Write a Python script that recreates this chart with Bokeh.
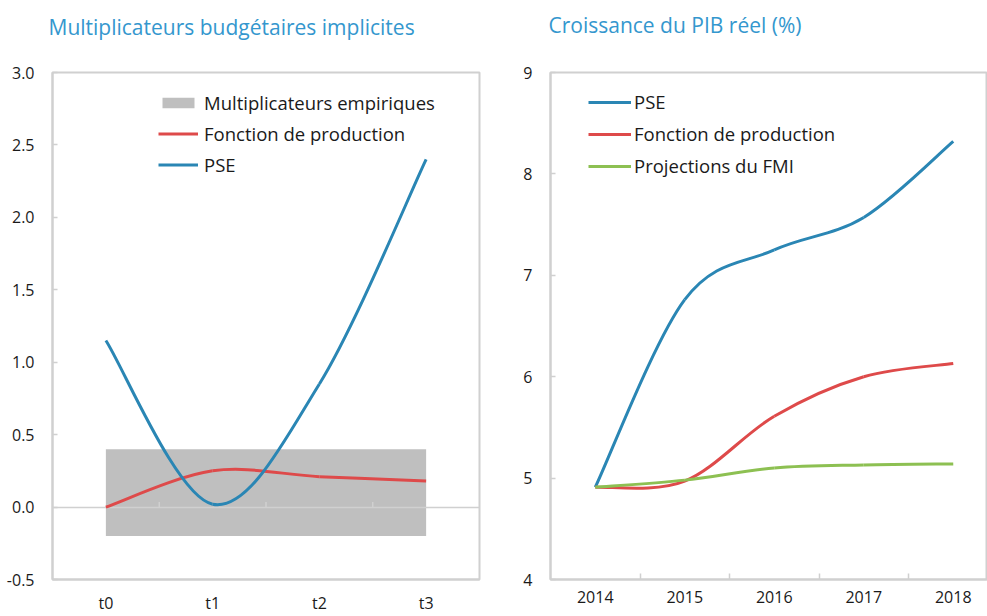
from bokeh.plotting import figure
from bokeh.models import (Range1d, FixedTicker, PrintfTickFormatter, Legend, LegendItem,
                          ColumnDataSource, Title)
from bokeh.layouts import row
from bokeh.embed import file_html
from bokeh.resources import INLINE

FONT = "Open Sans"
BLUE = "#2A86B4"
RED = "#DE4A4A"
GREEN = "#8DC052"
GREY_FILL = "#BFBFBF"
FRAME = "#D0D0D0"
TITLE_C = "#3497CE"
TXT = "#1A1A1A"

# ---- left panel data: implicit fiscal multipliers ----
left_title = "Multiplicateurs budgétaires implicites"
periods = ["t0", "t1", "t2", "t3"]
emp_low = -0.2
emp_high = 0.4
fp_mult = [0.0, 0.25, 0.21, 0.18]
pse_mult = [1.15, 0.02, 0.85, 2.40]
left_yticks = [-0.5, 0.0, 0.5, 1.0, 1.5, 2.0, 2.5, 3.0]

# ---- right panel data: real GDP growth (%) ----
right_title = "Croissance du PIB réel (%)"
years = [2014, 2015, 2016, 2017, 2018]
pse_growth = [4.91, 6.76, 7.25, 7.57, 8.32]
fp_growth = [4.91, 4.97, 5.61, 6.00, 6.13]
imf_growth = [4.91, 4.98, 5.10, 5.13, 5.14]
right_yticks = [4, 5, 6, 7, 8, 9]


def smooth_source(xs, ys):
    """Bezier control points (Catmull-Rom style, as in spreadsheet 'smoothed lines')."""
    n = len(xs)
    d = dict(x0=[], y0=[], x1=[], y1=[], cx0=[], cy0=[], cx1=[], cy1=[])
    for i in range(n - 1):
        xm, ym = (xs[i - 1], ys[i - 1]) if i > 0 else (xs[i], ys[i])
        xp, yp = (xs[i + 2], ys[i + 2]) if i + 2 < n else (xs[i + 1], ys[i + 1])
        d["x0"].append(xs[i]); d["y0"].append(ys[i])
        d["x1"].append(xs[i + 1]); d["y1"].append(ys[i + 1])
        d["cx0"].append(xs[i] + (xs[i + 1] - xm) / 6.0)
        d["cy0"].append(ys[i] + (ys[i + 1] - ym) / 6.0)
        d["cx1"].append(xs[i + 1] - (xp - xs[i]) / 6.0)
        d["cy1"].append(ys[i + 1] - (yp - ys[i]) / 6.0)
    return ColumnDataSource(d)


def bez(p, xs, ys, color):
    return p.bezier(x0="x0", y0="y0", x1="x1", y1="y1", cx0="cx0", cy0="cy0",
                    cx1="cx1", cy1="cy1", source=smooth_source(xs, ys),
                    line_color=color, line_width=3)


def style(p):
    p.xgrid.visible = False
    p.ygrid.visible = False
    p.outline_line_color = FRAME
    p.outline_line_width = 2
    p.background_fill_color = "white"
    p.border_fill_color = "white"
    for ax in (p.xaxis[0], p.yaxis[0]):
        ax.axis_line_color = FRAME
        ax.axis_line_width = 2
        ax.major_tick_line_color = FRAME
        ax.minor_tick_line_color = FRAME
        ax.major_tick_line_width = 1.5
        ax.minor_tick_line_width = 1.5
        ax.major_label_text_font = FONT
        ax.major_label_text_font_size = "16px"
        ax.major_label_text_color = TXT


def add_title(p, text, offset, gap):
    # spacer between frame and title (closest to the frame), then the title itself
    p.add_layout(Title(text=" ", text_font_size="10px", standoff=gap), "above")
    p.add_layout(Title(text=text, text_font=FONT, text_font_size="21px",
                       text_font_style="normal", text_color=TITLE_C,
                       align="left", offset=offset, standoff=10), "above")


# ================= LEFT =================
xpos = list(range(len(periods)))
pl = figure(width=487, height=616, output_backend="svg", toolbar_location=None,
            x_range=Range1d(xpos[0] - 0.5, xpos[-1] + 0.5),
            y_range=Range1d(left_yticks[0], left_yticks[-1]),
            min_border_left=52, min_border_right=8, min_border_top=70, min_border_bottom=36)
style(pl)
add_title(pl, left_title, -4, 14)

r_emp = pl.quad(left=[xpos[0]], right=[xpos[-1]], bottom=[emp_low], top=[emp_high],
                fill_color=GREY_FILL, line_color=None)
pl.hspan(y=[0], line_color=FRAME, line_width=1.5)
bounds = [x + 0.5 for x in xpos[:-1]]
pl.segment(x0=bounds, y0=[0] * len(bounds), x1=bounds, y1=[0.035] * len(bounds),
           line_color=FRAME, line_width=1.5)
r_fp = bez(pl, xpos, fp_mult, RED)
r_pse = bez(pl, xpos, pse_mult, BLUE)

pl.xaxis.ticker = FixedTicker(ticks=xpos)
pl.xaxis.major_label_overrides = {x: lab for x, lab in zip(xpos, periods)}
pl.xaxis.major_tick_in = 0
pl.xaxis.major_tick_out = 0
pl.xaxis.major_label_standoff = 12
pl.yaxis.ticker = FixedTicker(ticks=left_yticks)
pl.yaxis.formatter = PrintfTickFormatter(format="%.1f")
pl.yaxis.major_tick_in = 5
pl.yaxis.major_tick_out = 0
pl.yaxis.major_label_standoff = 18

leg_l = Legend(items=[LegendItem(label="Multiplicateurs empiriques", renderers=[r_emp]),
                      LegendItem(label="Fonction de production", renderers=[r_fp]),
                      LegendItem(label="PSE", renderers=[r_pse])],
               location=(106, 402), padding=0, margin=0, spacing=6,
               glyph_width=40, glyph_height=13, label_height=25, label_standoff=6,
               label_text_font=FONT, label_text_font_size="18.5px", label_text_color=TXT,
               border_line_alpha=0, background_fill_alpha=0)
pl.add_layout(leg_l)

# ================= RIGHT =================
pr = figure(width=500, height=616, output_backend="svg", toolbar_location=None,
            x_range=Range1d(years[0] - 0.5, years[0] - 0.5 + 437 / 89.5),
            y_range=Range1d(right_yticks[0], right_yticks[-1]),
            min_border_left=63, min_border_right=0, min_border_top=72, min_border_bottom=35)
style(pr)
add_title(pr, right_title, -2, 16)

r2_pse = bez(pr, years, pse_growth, BLUE)
r2_fp = bez(pr, years, fp_growth, RED)
r2_imf = bez(pr, years, imf_growth, GREEN)

pr.xaxis.ticker = FixedTicker(ticks=years, minor_ticks=[y + 0.5 for y in years[:-1]])
pr.xaxis.major_tick_in = 0
pr.xaxis.major_tick_out = 0
pr.xaxis.minor_tick_in = 6
pr.xaxis.minor_tick_out = 0
pr.xaxis.major_label_standoff = 11
pr.yaxis.ticker = FixedTicker(ticks=right_yticks)
pr.yaxis.major_tick_in = 5
pr.yaxis.major_tick_out = 0
pr.yaxis.major_label_standoff = 18

leg_r = Legend(items=[LegendItem(label="PSE", renderers=[r2_pse]),
                      LegendItem(label="Fonction de production", renderers=[r2_fp]),
                      LegendItem(label="Projections du FMI", renderers=[r2_imf])],
               location=(38, 401), padding=0, margin=0, spacing=7,
               glyph_width=43, glyph_height=20, label_height=25, label_standoff=3,
               label_text_font=FONT, label_text_font_size="18.5px", label_text_color=TXT,
               border_line_alpha=0, background_fill_alpha=0)
pr.add_layout(leg_r)

layout = row(pl, pr)
open("out.html", "w").write(file_html(layout, INLINE))
